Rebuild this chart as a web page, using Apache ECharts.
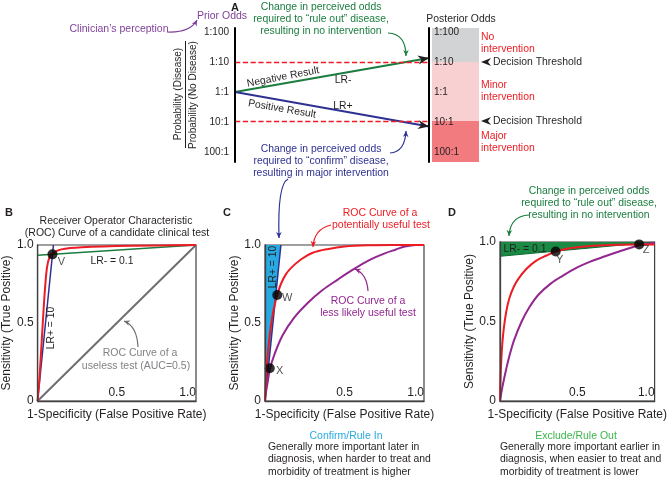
<!DOCTYPE html>
<html><head><meta charset="utf-8">
<script src="https://cdn.jsdelivr.net/npm/echarts@6/dist/echarts.min.js"></script>
<style>html,body{margin:0;padding:0;background:#fff}#c{width:669px;height:479px}</style>
</head><body><div id="c"></div>
<script>
// ---------------- DATA ----------------
// Panel A (log10 odds scale: -2 = 1:100 ... 2 = 100:1)
const oddsTicks = [-2, -1, 0, 1, 2];
const priorOddsLabels = ['1:100', '1:10', '1:1', '10:1', '100:1'];
const posteriorOddsLabels = ['1:100', '1:10', '1:1', '10:1', '100:1'];
const oddsRange = [-2.133, 2.333];
const decisionThresholds = [-1, 0.97];
const negativeResultLine = [[0, 0], [1, -1.13]];
const positiveResultLine = [[0, 0], [1, 1.15]];
const posteriorZones = [[-2.133, -1], [-1, 0.97], [0.97, 2.333]];

// ROC axes
const rocTicks = [0, 0.5, 1];
const rocYTickLabels = ['0', '0.5', '1.0'];
const rocXTickLabels = ['', '0.5', '1.0'];

// Panel B
const rocCandidateB = [[0,0],[0.01,0.12],[0.02,0.28],[0.03,0.45],[0.04,0.62],[0.05,0.76],[0.06,0.86],[0.075,0.92],[0.1,0.95],[0.15,0.972],[0.28,0.985],[0.6,0.995],[1,1]];
const lrPlusB = [[0, 0], [0.1, 1]];
const lrMinusB = [[0, 0.935], [1, 1]];
const uselessTestB = [[0, 0], [1, 1]];
const pointsB = [[0.094, 0.94]];
const pointNamesB = ['V'];

// Panel C
const rocUsefulC = [[0,0],[0.003,0.08],[0.008,0.17],[0.015,0.27],[0.025,0.38],[0.038,0.49],[0.055,0.59],[0.077,0.68],[0.1,0.75],[0.13,0.81],[0.166,0.855],[0.23,0.91],[0.3,0.95],[0.4,0.975],[0.5,0.99],[0.65,0.998],[0.8,1],[1,1]];
const rocLessUsefulC = [[0,0],[0.005,0.05],[0.015,0.11],[0.03,0.2],[0.06,0.3],[0.11,0.42],[0.18,0.53],[0.27,0.63],[0.36,0.71],[0.46,0.78],[0.55,0.84],[0.65,0.9],[0.75,0.945],[0.82,0.97],[0.88,0.99],[0.95,1],[1,1]];
const lrPlusC = [[0, 0], [0.1, 1]];
const pointsC = [[0.077, 0.68], [0.03, 0.21]];
const pointNamesC = ['W', 'X'];

// Panel D
const rocUsefulD = [[0,0],[0.003,0.12],[0.008,0.25],[0.015,0.36],[0.025,0.46],[0.04,0.56],[0.06,0.645],[0.09,0.72],[0.12,0.77],[0.17,0.83],[0.23,0.88],[0.3,0.915],[0.36,0.94],[0.45,0.96],[0.58,0.975],[0.75,0.982],[0.9,0.985],[1,0.985]];
const rocLessUsefulD = [[0,0],[0.01,0.06],[0.02,0.11],[0.04,0.2],[0.06,0.28],[0.09,0.38],[0.14,0.5],[0.19,0.59],[0.25,0.67],[0.33,0.74],[0.41,0.79],[0.5,0.84],[0.58,0.875],[0.68,0.91],[0.77,0.94],[0.85,0.965],[0.9,0.98],[1,0.995]];
const lrMinusD = [[0, 0.91], [1, 1]];
const pointsD = [[0.36, 0.94], [0.9, 0.985]];
const pointNamesD = ['Y', 'Z'];

// ---------------- STYLE ----------------
const FF = '"Liberation Sans", Arial, sans-serif';
const INK = '#231f20';
const RED = '#ed1c24', PURPLE = '#92278f', APURPLE = '#7f3f98', GREEN = '#1b7d3f', BLUE = '#2e3192';
const CYAN = '#27aae1', GRAY = '#6d6e71';

function rocXAxis(gi) {
  return {gridIndex: gi, type: 'value', min: 0, max: 1, interval: 0.5, z: 10,
    axisLine: {lineStyle: {color: '#414042', width: 1.3}}, axisTick: {show: false}, splitLine: {show: false},
    axisLabel: {inside: true, margin: 2, fontSize: 12, color: INK, fontFamily: FF, alignMaxLabel: 'right',
      formatter: v => rocXTickLabels[rocTicks.indexOf(Math.round(v * 2) / 2)]},
    name: '1-Specificity (False Positive Rate)', nameLocation: 'middle', nameGap: 8,
    nameTextStyle: {fontSize: 12, color: INK, fontFamily: FF, verticalAlign: 'top'}};
}
function rocYAxis(gi) {
  return {gridIndex: gi, type: 'value', min: 0, max: 1, interval: 0.5, z: 10,
    axisLine: {lineStyle: {color: '#414042', width: 1.3}}, axisTick: {show: false}, splitLine: {show: false},
    axisLabel: {margin: 4, fontSize: 12, color: INK, fontFamily: FF,
      formatter: v => rocYTickLabels[rocTicks.indexOf(Math.round(v * 2) / 2)]},
    name: 'Sensitivity (True Positive)', nameLocation: 'middle', nameGap: 24,
    nameTextStyle: {fontSize: 12, color: INK, fontFamily: FF}};
}
function curve(gi, data, color, width, extra) {
  return Object.assign({type: 'line', xAxisIndex: gi, yAxisIndex: gi, data: data, symbol: 'none',
    smooth: 0.35, itemStyle: {color: color}, lineStyle: {color: color, width: width}, silent: true, animation: false}, extra || {});
}
function dots(gi, pts, names, offsets) {
  return {type: 'scatter', xAxisIndex: gi, yAxisIndex: gi, symbolSize: 10, itemStyle: {color: '#000'},
    silent: true, z: 5, clip: false,
    data: pts.map((p, i) => ({value: p, name: names[i],
      label: {show: true, position: 'inside', offset: offsets[i], formatter: '{b}', color: INK, fontSize: 11, fontFamily: FF}}))};
}
const oddsLabel = arr => v => { const i = oddsTicks.indexOf(Math.round(v)); return i < 0 ? '' : arr[i]; };

const option = {
  animation: false,
  grid: [
    {left: 235, top: 28, width: 194, height: 134},
    {left: 429, top: 28, width: 50, height: 134},
    {left: 36, top: 245, width: 160, height: 156, show: true, borderColor: '#414042', borderWidth: 1.2},
    {left: 265, top: 245, width: 159, height: 156, show: true, borderColor: '#414042', borderWidth: 1.2},
    {left: 500, top: 242, width: 159, height: 159, show: true, borderColor: '#414042', borderWidth: 1.2}
  ],
  xAxis: [
    {gridIndex: 0, type: 'value', min: 0, max: 1, show: false},
    {gridIndex: 1, type: 'value', min: 0, max: 1, show: false},
    rocXAxis(2), rocXAxis(3), rocXAxis(4)
  ],
  yAxis: [
    {gridIndex: 0, type: 'value', min: oddsRange[0], max: oddsRange[1], inverse: true, z: 10,
      axisLine: {show: true, lineStyle: {color: '#000', width: 2}}, axisTick: {show: false}, splitLine: {show: false},
      axisLabel: {customValues: oddsTicks, margin: 6, fontSize: 10, color: INK, fontFamily: FF, formatter: oddsLabel(priorOddsLabels)}},
    {gridIndex: 1, type: 'value', min: oddsRange[0], max: oddsRange[1], inverse: true, z: 10,
      axisLine: {show: true, lineStyle: {color: '#000', width: 2}}, axisTick: {show: false}, splitLine: {show: false},
      axisLabel: {inside: true, customValues: oddsTicks, margin: 5, fontSize: 10, color: INK, fontFamily: FF, formatter: oddsLabel(posteriorOddsLabels)}},
    rocYAxis(2), rocYAxis(3), rocYAxis(4)
  ],
  series: [
    // Panel A
    {type: 'line', xAxisIndex: 1, yAxisIndex: 1, data: [], silent: true, z: 0,
      markArea: {silent: true, z: 0, data: posteriorZones.map((z, i) => [
        {xAxis: 0.06, yAxis: z[0], itemStyle: {color: ['#d1d3d4', '#f9d0d2', '#f27b7f'][i]}},
        {xAxis: 1, yAxis: z[1]}])}},
    {type: 'line', xAxisIndex: 0, yAxisIndex: 0, data: [], silent: true, color: RED, z: 2,
      markLine: {silent: true, symbol: ['none', 'none'], label: {show: false},
        lineStyle: {color: RED, width: 1.3, type: 'dashed', opacity: 1},
        emphasis: {disabled: true},
        data: decisionThresholds.map(v => ({yAxis: v}))}},
    curve(0, negativeResultLine, GREEN, 2, {smooth: false, z: 3}),
    curve(0, positiveResultLine, BLUE, 2, {smooth: false, z: 3}),
    // Panel B
    curve(2, uselessTestB, GRAY, 2, {smooth: false}),
    curve(2, lrMinusB, GREEN, 1.5, {smooth: false}),
    curve(2, lrPlusB, BLUE, 1.5, {smooth: false}),
    curve(2, rocCandidateB, RED, 2),
    dots(2, pointsB, pointNamesB, [[9, 8]]),
    // Panel C
    curve(3, lrPlusC, BLUE, 1.5, {smooth: false, areaStyle: {origin: 'end', color: CYAN, opacity: 1}}),
    curve(3, rocLessUsefulC, PURPLE, 2),
    curve(3, rocUsefulC, RED, 2),
    dots(3, pointsC, pointNamesC, [[10, 3], [10, 3]]),
    // Panel D
    curve(4, lrMinusD, '#0d6b32', 1, {smooth: false, areaStyle: {origin: 'end', color: '#1b8a44', opacity: 1}}),
    curve(4, rocLessUsefulD, PURPLE, 2),
    curve(4, rocUsefulD, RED, 2),
    dots(4, pointsD, pointNamesD, [[4, 8], [7, 6]])
  ]
};

const chart = echarts.init(document.getElementById('c'));
chart.setOption(option);

// ---------------- ANNOTATIONS ----------------
function T(x, y, text, color, size, align, rot, weight) {
  const font = (weight || 'normal') + ' ' + size + 'px ' + FF;
  return {type: 'text', x: x, y: y, rotation: rot || 0, z: 100, silent: true,
    style: {text: text, fill: color, font: font, fontSize: size, fontFamily: FF, fontWeight: weight || 'normal',
      align: align || 'center', textAlign: align || 'center', verticalAlign: 'middle', textVerticalAlign: 'middle'}};
}
function head(tip, from, len, half, color) {
  const dx = tip[0] - from[0], dy = tip[1] - from[1], L = Math.hypot(dx, dy);
  const ux = dx / L, uy = dy / L, nx = -uy, ny = ux;
  const bx = tip[0] - ux * len, by = tip[1] - uy * len;
  const mx = tip[0] - ux * len * 0.7, my = tip[1] - uy * len * 0.7;
  return {type: 'polygon', z: 101, silent: true,
    shape: {points: [tip, [bx + nx * half, by + ny * half], [mx, my], [bx - nx * half, by - ny * half]]},
    style: {fill: color}};
}
function carrow(p0, c1, c2, p1, color) {
  const shape = {x1: p0[0], y1: p0[1], x2: p1[0], y2: p1[1], cpx1: c1[0], cpy1: c1[1]};
  if (c2) { shape.cpx2 = c2[0]; shape.cpy2 = c2[1]; }
  const last = c2 || c1;
  return [{type: 'bezierCurve', z: 100, silent: true, shape: shape, style: {stroke: color, lineWidth: 1.2, fill: null}},
          head(p1, last, 6, 2.8, color)];
}
const G = [];
const add = a => Array.isArray(a) ? G.push(...a) : G.push(a);
// panel letters
add(T(235, 8, 'A', INK, 11, 'center', 0, 'bold'));
add(T(9, 213, 'B', INK, 11, 'center', 0, 'bold'));
add(T(227, 213, 'C', INK, 11, 'center', 0, 'bold'));
add(T(452, 213, 'D', INK, 11, 'center', 0, 'bold'));
// Panel A
add(T(222, 16, 'Prior Odds', APURPLE, 10.5));
add(T(119, 29, 'Clinician’s perception', APURPLE, 10.5));
add(carrow([167, 32], [190, 33], null, [197, 20], APURPLE));
['Change in perceived odds', 'required to “rule out” disease,', 'resulting in no intervention']
  .forEach((s, i) => add(T(321, 7 + 12 * i, s, GREEN, 10.4)));
add(carrow([388, 33], [406, 34], null, [406, 56], GREEN));
['Change in perceived odds', 'required to “confirm” disease,', 'resulting in major intervention']
  .forEach((s, i) => add(T(321, 149 + 12 * i, s, BLUE, 10.4)));
add(carrow([390, 153], [405, 152], null, [406, 131], BLUE));
add(T(461, 19, 'Posterior Odds', INK, 10.4));
[['No', 37], ['intervention', 49], ['Minor', 85], ['intervention', 97], ['Major', 136], ['intervention', 148]]
  .forEach(a => add(T(481, a[1], a[0], RED, 10.4, 'left')));
[62, 121].forEach(y => { add(head([481, y], [491, y], 10, 4, INK)); add(T(493, y, 'Decision Threshold', INK, 10.4, 'left')); });
add(T(283, 77, 'Negative Result', INK, 10.4, 'center', 0.19));
add(T(343, 80, 'LR-', INK, 10.4));
add(T(282, 109, 'Positive Result', INK, 10.4, 'center', -0.17));
add(T(343, 106, 'LR+', INK, 10.4));
add(T(178.5, 94, 'Probability (Disease)', INK, 10, 'center', Math.PI / 2));
add(T(193, 95, 'Probability (No Disease)', INK, 10, 'center', Math.PI / 2));
add({type: 'line', z: 100, silent: true, shape: {x1: 185.5, y1: 41, x2: 185.5, y2: 148}, style: {stroke: INK, lineWidth: 1}});
// Panel B
add(T(116, 221, 'Receiver Operator Characteristic', INK, 10.5));
add(T(117, 233, '(ROC) Curve of a candidate clinical test', INK, 10.5));
add(T(112, 261, 'LR- = 0.1', INK, 10.4));
add(T(51, 328, 'LR+ = 10', INK, 10.4, 'center', Math.PI / 2));
add(T(140, 353, 'ROC Curve of a', '#808285', 10.5));
add(T(136, 366, 'useless test (AUC=0.5)', '#808285', 10.5));
add(carrow([138, 347], [137, 326], null, [124, 321], GRAY));
// Panel C
add(carrow([288, 179], [280, 183], [278, 205], [279, 238], BLUE));
add(T(380, 213, 'ROC Curve of a', RED, 10.5));
add(T(381, 225, 'potentially useful test', RED, 10.5));
add(carrow([331, 225], [314, 229], null, [313, 247], RED));
add(T(368, 301, 'ROC Curve of a', PURPLE, 10.5));
add(T(368, 313, 'less likely useful test', PURPLE, 10.5));
add(carrow([368, 291], [367, 274], null, [355, 269], PURPLE));
add(T(273, 267, 'LR+ = 10', INK, 10.4, 'center', Math.PI / 2));
add(T(346, 436, 'Confirm/Rule In', CYAN, 10.5));
['Generally more important later in', 'diagnosis, when harder to treat and', 'morbidity of treatment is higher']
  .forEach((s, i) => add(T(268, 447 + 12.5 * i, s, INK, 10.4, 'left')));
// Panel D
['Change in perceived odds', 'required to “rule out” disease,', 'resulting in no intervention']
  .forEach((s, i) => add(T(589, 191 + 12 * i, s, GREEN, 10.4)));
add(carrow([529, 215], [510, 216], null, [509, 236], GREEN));
add(T(525, 249, 'LR- = 0.1', INK, 10.4));
add(T(576, 436, 'Exclude/Rule Out', '#3cb54a', 10.5));
['Generally more important earlier in', 'diagnosis, when easier to treat and', 'morbidity of treatment is lower']
  .forEach((s, i) => add(T(500, 447 + 12.5 * i, s, INK, 10.4, 'left')));

// arrowheads at the ends of the LR lines in panel A, placed through the axis scales
[negativeResultLine, positiveResultLine].forEach(line => {
  const a = chart.convertToPixel({gridIndex: 0}, line[0]);
  const b = chart.convertToPixel({gridIndex: 0}, line[line.length - 1]);
  add(head(b, a, 11, 4.5, INK));
});
chart.setOption({graphic: G});
</script></body></html>
